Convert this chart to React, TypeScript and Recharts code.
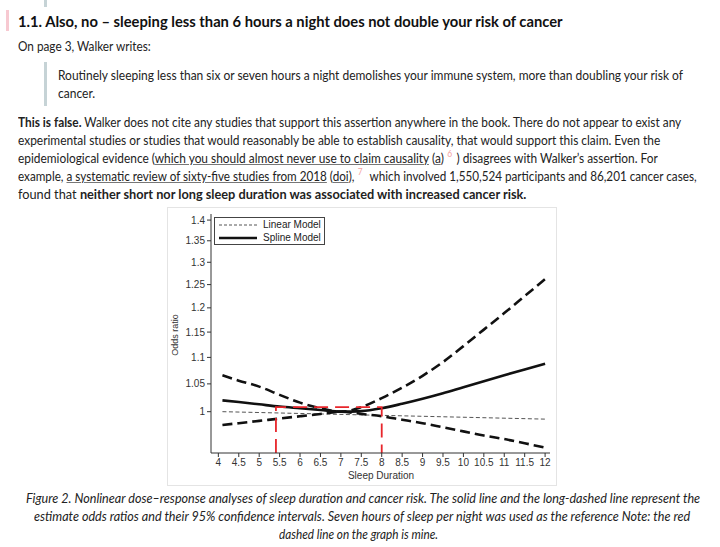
import { useLayoutEffect, useRef, useState } from 'react';
import { LineChart, Line, XAxis, YAxis, Legend } from 'recharts';

// Sleep duration (hours) grid the curves were read at
const sleepHours = [4.1, 4.5, 5, 5.5, 6, 6.5, 7, 7.5, 8, 8.5, 9, 9.5, 10, 10.5, 11, 11.5, 12];
const splineOdds = [1.02, 1.017, 1.013, 1.009, 1.006, 1.003, 1.0, 1.001, 1.006, 1.014, 1.023, 1.033, 1.044, 1.055, 1.066, 1.077, 1.088];
const upperOdds = [1.066, 1.056, 1.045, 1.03, 1.016, 1.006, 1.0, 1.008, 1.024, 1.043, 1.065, 1.091, 1.122, 1.155, 1.189, 1.225, 1.262];
const lowerOdds = [0.977, 0.98, 0.984, 0.988, 0.992, 0.996, 1.0, 0.996, 0.992, 0.986, 0.98, 0.973, 0.966, 0.959, 0.953, 0.946, 0.939];

// Linear model is a straight (thin, short-dashed) line
const linearHours = [4.1, 12];
const linearOdds = [1.0, 0.987];

// Red dashed bracket added by the blog author
const markerHours = [5.41, 5.41, 8, 8];
const markerOdds = [0.93, 1.008, 1.008, 0.93];

const xTicks = [4, 4.5, 5, 5.5, 6, 6.5, 7, 7.5, 8, 8.5, 9, 9.5, 10, 10.5, 11, 11.5, 12];
const yTicks = [1, 1.05, 1.1, 1.15, 1.2, 1.25, 1.3, 1.35, 1.4];

const toPoints = (xs: number[], ys: number[]) => xs.map((x, i) => ({ x, y: ys[i] }));

const splineData = toPoints(sleepHours, splineOdds);
const upperData = toPoints(sleepHours, upperOdds);
const lowerData = toPoints(sleepHours, lowerOdds);
const linearData = toPoints(linearHours, linearOdds);
const markerData = toPoints(markerHours, markerOdds);

const CHART_FONT = '"Liberation Sans", Arial, sans-serif';
const PAGE_FONT = 'Lato, "Noto Sans", sans-serif';

// One line of page text, squeezed horizontally to the width it has in the screenshot
function FitLine({ left, centerY, width, size = 14, bold = false, italic = false, color = '#222', children }: any) {
    const ref = useRef<HTMLDivElement>(null);
    const [k, setK] = useState(1);

    useLayoutEffect(() => {
        const w = ref.current ? ref.current.scrollWidth : 0;
        if (w > 0) setK(width / w);
    }, [width]);

    return (
        <div
            ref={ref}
            style={{
                position: 'absolute',
                left,
                top: centerY - 10,
                width: 'max-content',
                height: 20,
                lineHeight: '20px',
                fontSize: size,
                fontWeight: bold ? 700 : 400,
                fontStyle: italic ? 'italic' : 'normal',
                whiteSpace: 'nowrap',
                color,
                transform: `scaleX(${k})`,
                transformOrigin: '0 0',
            }}
        >
            {children}
        </div>
    );
}

const U = ({ children }: any) => (
    <span style={{ textDecoration: 'underline', textDecorationColor: '#777' }}>{children}</span>
);
// footnote number, raised without growing the line box
const Note = ({ children }: any) => (
    <span style={{ position: 'relative', top: -6, color: '#f2a3a3', fontSize: 10, margin: '0 5px 0 4px', lineHeight: 0 }}>
        {children}
    </span>
);

const renderLegend = () => (
    <div
        style={{
            border: '1px solid #444',
            background: '#fff',
            padding: '0 3px 0 4px',
            fontSize: 10,
            fontFamily: CHART_FONT,
            color: '#222',
            lineHeight: '13px',
        }}
    >
        <div style={{ display: 'flex', alignItems: 'center' }}>
            <svg width={38} height={6}>
                <line x1={0} y1={3} x2={38} y2={3} stroke="#555" strokeWidth={1} strokeDasharray="3 2" />
            </svg>
            <span style={{ marginLeft: 6 }}>Linear Model</span>
        </div>
        <div style={{ display: 'flex', alignItems: 'center' }}>
            <svg width={38} height={6}>
                <line x1={0} y1={3} x2={38} y2={3} stroke="#111" strokeWidth={2.6} />
            </svg>
            <span style={{ marginLeft: 6 }}>Spline Model</span>
        </div>
    </div>
);

function SleepChart() {
    const tickStyle = { fontSize: 10, fill: '#333', fontFamily: CHART_FONT };
    return (
        <div
            style={{
                position: 'absolute',
                left: 167,
                top: 207,
                width: 390,
                height: 279,
                border: '1px solid #e4e4e4',
                boxSizing: 'border-box',
                background: '#fff',
            }}
        >
            <LineChart width={388} height={277} margin={{ top: 6, right: 6, left: 0, bottom: 0 }}>
                <XAxis
                    type="number"
                    dataKey="x"
                    domain={[3.82, 12.12]}
                    allowDataOverflow
                    ticks={xTicks}
                    interval={0}
                    height={32}
                    tick={tickStyle}
                    tickSize={4}
                    tickMargin={2}
                    stroke="#333"
                />
                <YAxis
                    type="number"
                    dataKey="y"
                    scale="log"
                    domain={[0.93, 1.415]}
                    allowDataOverflow
                    ticks={yTicks}
                    interval={0}
                    width={43}
                    tick={tickStyle}
                    tickSize={4}
                    tickMargin={2}
                    stroke="#333"
                    tickFormatter={(v: number) => String(v)}
                />
                <Legend
                    content={renderLegend}
                    layout="vertical"
                    align="center"
                    verticalAlign="middle"
                    wrapperStyle={{ left: 46, top: 9, width: 'auto', height: 'auto' }}
                />
                <Line data={linearData} dataKey="y" type="linear" stroke="#555" strokeWidth={1}
                    strokeDasharray="4 2.5" dot={false} isAnimationActive={false} legendType="none" />
                <Line data={lowerData} dataKey="y" type="monotone" stroke="#111" strokeWidth={2.6}
                    strokeDasharray="10 5" dot={false} isAnimationActive={false} legendType="none" />
                <Line data={upperData} dataKey="y" type="monotone" stroke="#111" strokeWidth={2.6}
                    strokeDasharray="10 5" dot={false} isAnimationActive={false} legendType="none" />
                <Line data={splineData} dataKey="y" type="monotone" stroke="#111" strokeWidth={2.6}
                    dot={false} isAnimationActive={false} legendType="none" />
                <Line data={markerData} dataKey="y" type="linear" stroke="#e8262b" strokeWidth={1.8}
                    strokeDasharray="14 7" dot={false} isAnimationActive={false} legendType="none" />
            </LineChart>

            {/* axis titles */}
            <div style={{
                position: 'absolute', left: 7, top: 127, fontSize: 9, fontFamily: CHART_FONT, color: '#333',
                transform: 'translate(-50%, -50%) rotate(-90deg)', whiteSpace: 'nowrap',
            }}>Odds ratio</div>
            <div style={{
                position: 'absolute', left: 213, top: 267, fontSize: 10, fontFamily: CHART_FONT, color: '#333',
                transform: 'translate(-50%, -50%)', whiteSpace: 'nowrap',
            }}>Sleep Duration</div>
        </div>
    );
}

export default function App() {
    return (
        <div style={{
            position: 'absolute', left: 0, top: 0, width: 720, height: 547, overflow: 'hidden',
            background: '#fff', fontFamily: PAGE_FONT,
        }}>
            {/* bits of the previous quote and section heading */}
            <div style={{ position: 'absolute', left: 44, top: 0, width: 3, height: 7, background: '#c6d3d6' }} />
            <div style={{ position: 'absolute', left: 6, top: 10, width: 3, height: 21, background: '#f7c9d1' }} />
            <FitLine left={18} centerY={21} width={545} size={15.5} bold color="#111">
                1.1. Also, no – sleeping less than 6 hours a night does not double your risk of cancer
            </FitLine>
            <FitLine left={18} centerY={46} width={133}>On page 3, Walker writes:</FitLine>

            <div style={{ position: 'absolute', left: 44, top: 62, width: 3, height: 44, background: '#c6d3d6' }} />
            <FitLine left={58} centerY={75} width={625}>
                Routinely sleeping less than six or seven hours a night demolishes your immune system, more than doubling your risk of
            </FitLine>
            <FitLine left={58} centerY={93} width={37}>cancer.</FitLine>

            <FitLine left={18} centerY={122} width={663}>
                <b>This is false.</b> Walker does not cite any studies that support this assertion anywhere in the book. There do not appear to exist any
            </FitLine>
            <FitLine left={18} centerY={140} width={642}>
                experimental studies or studies that would reasonably be able to establish causality, that would support this claim. Even the
            </FitLine>
            <FitLine left={18} centerY={158} width={640}>
                epidemiological evidence (<U>which you should almost never use to claim causality</U> (<U>a</U>)<Note>6</Note>) disagrees with Walker’s assertion. For
            </FitLine>
            <FitLine left={18} centerY={176} width={679}>
                example, <U>a systematic review of sixty-five studies from 2018</U> (<U>doi</U>),<Note>7</Note> which involved 1,550,524 participants and 86,201 cancer cases,
            </FitLine>
            <FitLine left={18} centerY={194} width={508}>
                found that <b>neither short nor long sleep duration was associated with increased cancer risk.</b>
            </FitLine>

            <SleepChart />

            <FitLine left={26} centerY={498} width={674} italic>
                Figure 2. Nonlinear dose–response analyses of sleep duration and cancer risk. The solid line and the long-dashed line represent the
            </FitLine>
            <FitLine left={34} centerY={516} width={656} italic>
                estimate odds ratios and their 95% confidence intervals. Seven hours of sleep per night was used as the reference Note: the red
            </FitLine>
            <FitLine left={279} centerY={534} width={159} italic>
                dashed line on the graph is mine.
            </FitLine>
        </div>
    );
}
